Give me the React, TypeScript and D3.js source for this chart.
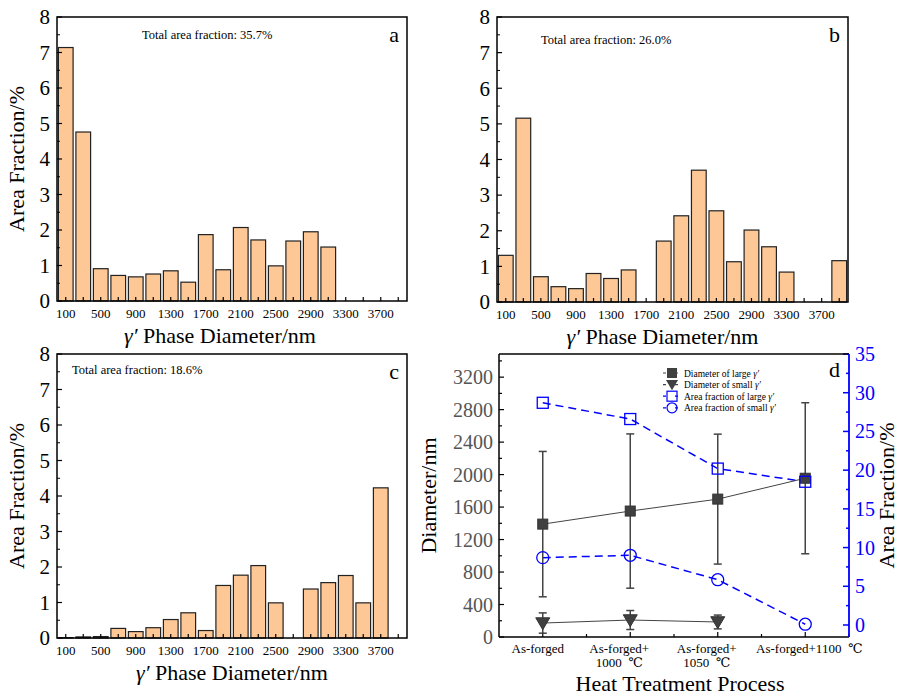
import React from 'react'
import * as d3 from 'd3'

const FONT = "'Liberation Serif', 'Times New Roman', Times, 'DejaVu Serif', serif"
const BAR_FILL = '#fdc896'

// bin centres in nm, 200 nm bins
const binCenters = [100, 300, 500, 700, 900, 1100, 1300, 1500, 1700, 1900, 2100, 2300, 2500, 2700, 2900, 3100, 3300, 3500, 3700, 3900]
const binLabels = [100, 500, 900, 1300, 1700, 2100, 2500, 2900, 3300, 3700]
const fracTicks = [0, 1, 2, 3, 4, 5, 6, 7, 8]

const areaA = [7.14, 4.76, 0.91, 0.72, 0.68, 0.76, 0.85, 0.53, 1.87, 0.88, 2.07, 1.72, 0.99, 1.69, 1.95, 1.52, 0, 0, 0, 0]
const areaB = [1.31, 5.16, 0.71, 0.43, 0.375, 0.8, 0.66, 0.9, 0, 1.71, 2.42, 3.7, 2.56, 1.13, 2.02, 1.55, 0.84, 0, 0, 1.16]
const areaC = [0.01, 0.03, 0.04, 0.27, 0.18, 0.29, 0.52, 0.71, 0.21, 1.48, 1.77, 2.04, 0.99, 0, 1.38, 1.56, 1.76, 0.99, 4.23, 0]

// panel d
const processes = ['As-forged', 'As-forged+|1000  ℃', 'As-forged+|1050  ℃', 'As-forged+1100  ℃']
const diaLarge = [1390, 1551, 1698, 1955]
const diaLargeErr = [895, 950, 800, 930]
const diaSmall = [172, 209, 185]
const diaSmallErr = [125, 117, 85]
const fracLarge = [28.7, 26.6, 20.2, 18.5]
const fracSmall = [8.7, 9.0, 5.85, 0.1]
const diaTicks = [0, 400, 800, 1200, 1600, 2000, 2400, 2800, 3200]
const fracRightTicks = [0, 5, 10, 15, 20, 25, 30, 35]

type BarProps = {
  left: number; right: number; top: number; bottom: number
  values: number[]; letter: string; total: string
  totalX: number; totalY: number; yTitle: boolean; titleShift: number
}

function BarPanel(p: BarProps) {
  const x = d3.scaleLinear().domain([0, 4000]).range([p.left, p.right])
  const y = d3.scaleLinear().domain([0, 8]).range([p.bottom, p.top])
  const bw = (x(200) - x(0)) * 0.84
  const minor = d3.range(0.5, 8, 1)
  return (
    <g>
      {binCenters.map((c, i) =>
        p.values[i] > 0 ? (
          <rect key={c} x={x(c) - bw / 2} y={y(p.values[i])} width={bw} height={y(0) - y(p.values[i])}
            fill={BAR_FILL} stroke="#222" strokeWidth={1.2} />
        ) : null
      )}
      {binCenters.map((c) => (
        <line key={'xt' + c} x1={x(c)} x2={x(c)} y1={p.bottom} y2={p.bottom - 4} stroke="#000" strokeWidth={1.2} />
      ))}
      {fracTicks.map((t) => (
        <line key={'yt' + t} x1={p.left} x2={p.left + 5} y1={y(t)} y2={y(t)} stroke="#000" strokeWidth={1.2} />
      ))}
      {minor.map((t) => (
        <line key={'ym' + t} x1={p.left} x2={p.left + 3} y1={y(t)} y2={y(t)} stroke="#000" strokeWidth={1} />
      ))}
      <rect x={p.left} y={p.top} width={p.right - p.left} height={p.bottom - p.top} fill="none" stroke="#000" strokeWidth={1.5} />
      {fracTicks.map((t) => (
        <text key={'yl' + t} x={p.left - 7} y={y(t)} dy="0.35em" textAnchor="end" fontSize={21}>{t}</text>
      ))}
      {binLabels.map((t) => (
        <text key={'xl' + t} x={x(t)} y={p.bottom + 17} textAnchor="middle" fontSize={13}>{t}</text>
      ))}
      <text x={(p.left + p.right) / 2 + p.titleShift} y={p.bottom + 42} textAnchor="middle" fontSize={22}>
        <tspan fontStyle="italic">γ′</tspan> Phase Diameter/nm
      </text>
      {p.yTitle && (
        <text transform={`translate(${p.left - 33},${(p.top + p.bottom) / 2}) rotate(-90)`} textAnchor="middle" fontSize={22}>
          Area Fraction/%
        </text>
      )}
      <text x={p.totalX} y={p.totalY} fontSize={12.5}>{p.total}</text>
      <text x={p.right - 8} y={p.top + 25} textAnchor="end" fontSize={22}>{p.letter}</text>
    </g>
  )
}

function LinePanel() {
  const left = 499, right = 849, top = 354, bottom = 637
  const x = d3.scaleLinear().domain([0.5, 4.5]).range([left, right])
  const yL = d3.scaleLinear().domain([0, 3485]).range([bottom, top])
  const yR = d3.scaleLinear().domain([-1.55, 35]).range([bottom, top])
  const grey = '#444'
  const blue = '#0000ff'
  const lineOf = (scale: d3.ScaleLinear<number, number>) =>
    d3.line<number>().x((_, i) => x(i + 1)).y((v) => scale(v))
  const pathLarge = lineOf(yL)(diaLarge) || ''
  const pathSmall = lineOf(yL)(diaSmall) || ''
  const pathFL = lineOf(yR)(fracLarge) || ''
  const pathFS = lineOf(yR)(fracSmall) || ''
  const tri = (cx: number, cy: number, s: number) => `M${cx - s},${cy - s * 0.75}L${cx + s},${cy - s * 0.75}L${cx},${cy + s * 0.95}Z`
  const errBar = (cx: number, v: number, e: number, key: string) => (
    <g key={key} stroke={grey} strokeWidth={1.5}>
      <line x1={cx} x2={cx} y1={yL(v - e)} y2={yL(v + e)} />
      <line x1={cx - 4} x2={cx + 4} y1={yL(v + e)} y2={yL(v + e)} />
      <line x1={cx - 4} x2={cx + 4} y1={yL(v - e)} y2={yL(v - e)} />
    </g>
  )
  const legendItems = [
    { label: 'Diameter of large ', kind: 'sq' },
    { label: 'Diameter of small ', kind: 'tri' },
    { label: 'Area fraction of large ', kind: 'osq' },
    { label: 'Area fraction of small ', kind: 'oc' },
  ]
  const labelX = (i: number, two: boolean) => x(i + 1) - (two ? 11 : i === 3 ? -4 : 5)
  return (
    <g>
      {/* ticks */}
      {d3.range(0, 3500, 200).map((t) => (
        <line key={'lt' + t} x1={left} x2={left + (t % 400 === 0 ? 5 : 3)} y1={yL(t)} y2={yL(t)} stroke="#000" strokeWidth={1.2} />
      ))}
      {d3.range(0, 35.1, 2.5).map((t) => (
        <line key={'rt' + t} x1={right} x2={right - (t % 5 === 0 ? 6 : 3)} y1={yR(t)} y2={yR(t)} stroke={blue} strokeWidth={1.5} />
      ))}
      {d3.range(1, 5, 0.5).map((t) => (
        <line key={'bt' + t} x1={x(t)} x2={x(t)} y1={bottom} y2={bottom - (t % 1 === 0 ? 5 : 3)} stroke="#000" strokeWidth={1.2} />
      ))}
      <line x1={left} x2={right} y1={top} y2={top} stroke="#000" strokeWidth={1.5} />
      <line x1={left} x2={right} y1={bottom} y2={bottom} stroke="#000" strokeWidth={1.5} />
      <line x1={left} x2={left} y1={top} y2={bottom} stroke="#000" strokeWidth={1.5} />
      <line x1={right} x2={right} y1={top} y2={bottom} stroke={blue} strokeWidth={1.8} />

      {/* blue series */}
      <path d={pathFL} fill="none" stroke={blue} strokeWidth={1.5} strokeDasharray="8,5" />
      <path d={pathFS} fill="none" stroke={blue} strokeWidth={1.5} strokeDasharray="8,5" />

      {/* diameter series */}
      <path d={pathLarge} fill="none" stroke={grey} strokeWidth={1} />
      <path d={pathSmall} fill="none" stroke={grey} strokeWidth={1} />
      {diaLarge.map((v, i) => errBar(x(i + 1), v, diaLargeErr[i], 'el' + i))}
      {diaSmall.map((v, i) => errBar(x(i + 1), v, diaSmallErr[i], 'es' + i))}
      {diaLarge.map((v, i) => (
        <rect key={'ml' + i} x={x(i + 1) - 5} y={yL(v) - 5} width={10} height={10} fill="#404040" stroke="#333" />
      ))}
      {diaSmall.map((v, i) => (
        <path key={'ms' + i} d={tri(x(i + 1), yL(v), 7)} fill="#404040" stroke="#333" />
      ))}
      {fracLarge.map((v, i) => (
        <rect key={'fl' + i} x={x(i + 1) - 5.5} y={yR(v) - 5.5} width={11} height={11} fill="none" stroke={blue} strokeWidth={1.3} />
      ))}
      {fracSmall.map((v, i) => (
        <circle key={'fs' + i} cx={x(i + 1)} cy={yR(v)} r={6} fill="none" stroke={blue} strokeWidth={1.3} />
      ))}

      {/* tick labels */}
      {diaTicks.map((t) => (
        <text key={'ll' + t} x={left - 6} y={yL(t)} dy="0.35em" textAnchor="end" fontSize={20} fill="#555">{t}</text>
      ))}
      {fracRightTicks.map((t) => (
        <text key={'rl' + t} x={right + 6} y={yR(t)} dy="0.35em" fontSize={20} fill={blue}>{t}</text>
      ))}
      {processes.map((p, i) => {
        const parts = p.split('|')
        const lx = labelX(i, parts.length > 1)
        return (
          <text key={'cl' + i} x={lx} y={bottom + 16} textAnchor="middle" fontSize={13} style={{ whiteSpace: 'pre' }}>
            {parts.map((s, j) => (
              <tspan key={j} x={lx} dy={j === 0 ? 0 : 14}>{s}</tspan>
            ))}
          </text>
        )
      })}
      <text transform={`translate(${left - 63},${(top + bottom) / 2}) rotate(-90)`} textAnchor="middle" fontSize={22}>Diameter/nm</text>
      <text transform={`translate(${right + 45},${(top + bottom) / 2}) rotate(-90)`} textAnchor="middle" fontSize={22}>Area Fraction/%</text>
      <text x={(left + right) / 2 + 6} y={691} textAnchor="middle" fontSize={22}>Heat Treatment Process</text>
      <text x={right - 9} y={377} textAnchor="end" fontSize={22}>d</text>

      {/* legend */}
      {legendItems.map((it, i) => {
        const ly = 373 + i * 11.6
        const lx = 672
        const col = it.kind === 'sq' || it.kind === 'tri' ? grey : blue
        return (
          <g key={'lg' + i}>
            <line x1={lx - 10} x2={lx + 10} y1={ly} y2={ly} stroke={col} strokeWidth={1.2} strokeDasharray="3,9" strokeDashoffset={-1} />
            {it.kind === 'sq' && <rect x={lx - 5} y={ly - 5} width={10} height={10} fill="#404040" />}
            {it.kind === 'tri' && <path d={tri(lx, ly, 6)} fill="#404040" />}
            {it.kind === 'osq' && <rect x={lx - 5} y={ly - 5} width={10} height={10} fill="none" stroke={blue} strokeWidth={1.2} />}
            {it.kind === 'oc' && <circle cx={lx} cy={ly} r={5} fill="none" stroke={blue} strokeWidth={1.2} />}
            <text x={lx + 12} y={ly + 3.5} fontSize={9.5}>
              {it.label}<tspan fontStyle="italic">γ′</tspan>
            </text>
          </g>
        )
      })}
    </g>
  )
}

export default function App() {
  return (
    <svg width={902} height={695} style={{ position: 'absolute', left: 0, top: 0, background: '#fff', fontFamily: FONT }}>
      <rect width={902} height={695} fill="#fff" />
      <BarPanel left={57} right={407} top={17} bottom={301} values={areaA} letter="a"
        total="Total area fraction: 35.7%" totalX={142} totalY={39} yTitle titleShift={-12} />
      <BarPanel left={497} right={848} top={17} bottom={302} values={areaB} letter="b"
        total="Total area fraction: 26.0%" totalX={541} totalY={44} yTitle={false} titleShift={-10} />
      <BarPanel left={57} right={407} top={354} bottom={638} values={areaC} letter="c"
        total="Total area fraction: 18.6%" totalX={72} totalY={374} yTitle titleShift={0} />
      <LinePanel />
    </svg>
  )
}
